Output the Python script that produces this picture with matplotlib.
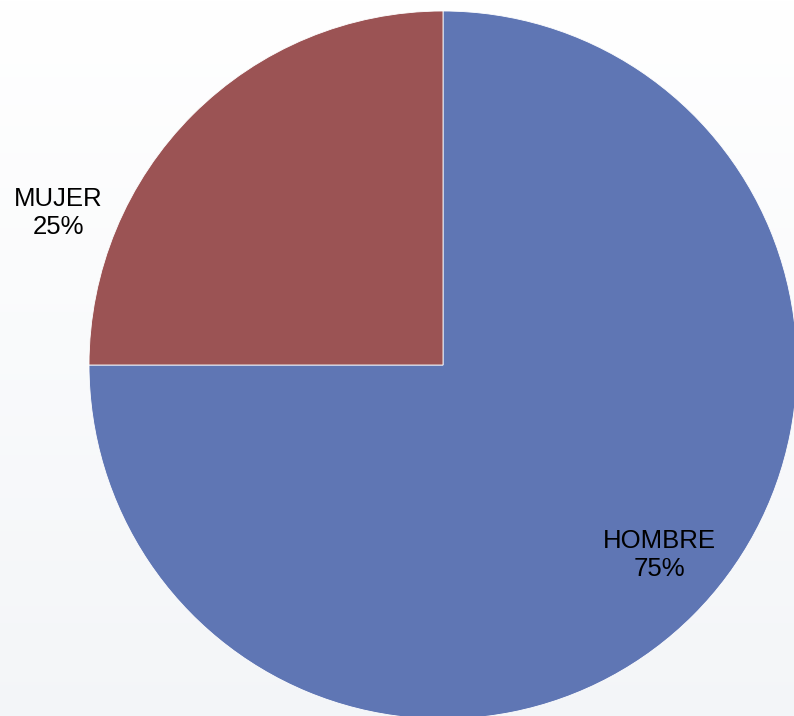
import matplotlib
matplotlib.use('Agg')
import matplotlib.pyplot as plt
import numpy as np

labels = ['HOMBRE', 'MUJER']
values = [75, 25]
colors = ['#5F76B4', '#9B5354']

W, H = 794, 716
fig = plt.figure(figsize=(W / 100, H / 100), dpi=100)
ax = fig.add_axes([0, 0, 1, 1])
ax.set_xlim(0, W)
ax.set_ylim(0, H)
ax.axis('off')

# faint background gradient, white at top to light grey at bottom
grad = np.linspace(0, 1, 256).reshape(-1, 1)
top = np.array([1.0, 1.0, 1.0])
bottom = np.array([0.955, 0.963, 0.973])
img = top + (bottom - top) * grad[:, :, None]
img = np.repeat(img, 2, axis=1)
ax.imshow(img, extent=[0, W, 0, H], aspect='auto', zorder=0)

cx, cy, r = 443, H - 365, 354
wedges, _ = ax.pie(values, colors=colors, startangle=90, counterclock=False,
                   center=(cx, cy), radius=r, frame=True,
                   wedgeprops=dict(edgecolor='white', linewidth=0.6))
for w in wedges:
    w.set_zorder(2)
ax.set_xlim(0, W)
ax.set_ylim(0, H)
ax.set_aspect('auto')
ax.axis('off')

pos = {'HOMBRE': (659, H - 555), 'MUJER': (58, H - 213)}
for lab, v in zip(labels, values):
    x, y = pos[lab]
    ax.text(x, y, f'{lab}\n{v}%', ha='center', va='center', fontsize=18.5,
            family='Liberation Sans', color='black', linespacing=1.2, zorder=3)

fig.savefig('out.png', dpi=100)
